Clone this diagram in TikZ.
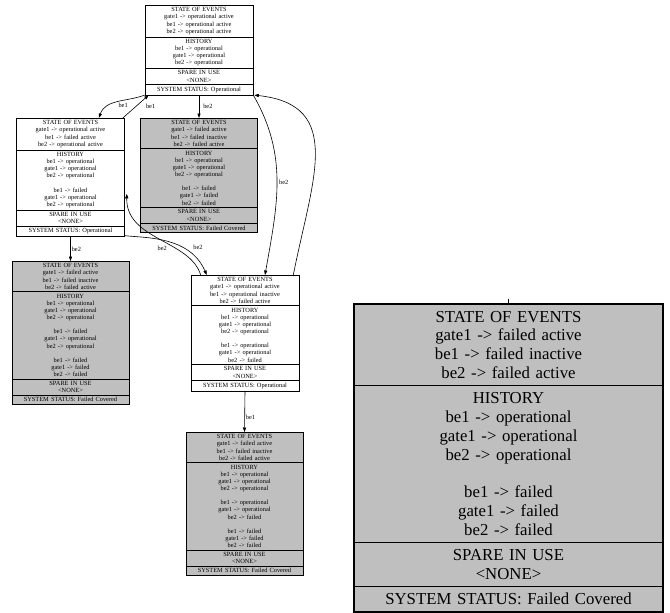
\documentclass[tikz,border=0pt]{standalone}
\usepackage{fontspec}
\setmainfont{Liberation Serif}
\usepackage{tikz}
\usetikzlibrary{shapes.multipart, arrows.meta, positioning}
\newcommand{\recfont}{\fontsize{6.35}{7.14}\selectfont}

\begin{document}
\begin{tikzpicture}[x=1pt, y=-1pt, line width=0.6pt,
	rec/.style={rectangle split, rectangle split parts=4, draw, align=center, text width=85pt, inner xsep=11.5pt, inner ysep=2pt, font=\recfont, anchor=north},
	wide/.style={rec, text width=95pt, inner xsep=11pt},
	failed/.style={wide, fill=lightgray},
	tr/.style={-{Triangle[length=4.5pt, width=3.2pt]}},
	lbl/.style={font=\recfont, inner sep=1pt}]
	\useasboundingbox (0,0) rectangle (670,613);

	\node[rec] (s0) at (199,5) {STATE OF EVENTS\\gate1 -> operational active\\be1 -> operational active\\be2 -> operational active
		\nodepart{two}HISTORY\\be1 -> operational\\gate1 -> operational\\be2 -> operational
		\nodepart{three}SPARE IN USE\\<NONE>
		\nodepart{four}SYSTEM STATUS: Operational};
	\node[rec] (s1) at (70.5,118) {STATE OF EVENTS\\gate1 -> operational active\\be1 -> failed active\\be2 -> operational active
		\nodepart{two}HISTORY\\be1 -> operational\\gate1 -> operational\\be2 -> operational\\[7.14pt]be1 -> failed\\gate1 -> operational\\be2 -> operational
		\nodepart{three}SPARE IN USE\\<NONE>
		\nodepart{four}SYSTEM STATUS: Operational};
	\node[failed] (s2) at (199,118) {STATE OF EVENTS\\gate1 -> failed active\\be1 -> failed inactive\\be2 -> failed active
		\nodepart{two}HISTORY\\be1 -> operational\\gate1 -> operational\\be2 -> operational\\[7.14pt]be1 -> failed\\gate1 -> failed\\be2 -> failed
		\nodepart{three}SPARE IN USE\\<NONE>
		\nodepart{four}SYSTEM STATUS: Failed Covered};
	\node[failed] (s3) at (70.5,261) {STATE OF EVENTS\\gate1 -> failed active\\be1 -> failed inactive\\be2 -> failed active
		\nodepart{two}HISTORY\\be1 -> operational\\gate1 -> operational\\be2 -> operational\\[7.14pt]be1 -> failed\\gate1 -> operational\\be2 -> operational\\[7.14pt]be1 -> failed\\gate1 -> failed\\be2 -> failed
		\nodepart{three}SPARE IN USE\\<NONE>
		\nodepart{four}SYSTEM STATUS: Failed Covered};
	\node[rec] (s4) at (245,275) {STATE OF EVENTS\\gate1 -> operational active\\be1 -> operational inactive\\be2 -> failed active
		\nodepart{two}HISTORY\\be1 -> operational\\gate1 -> operational\\be2 -> operational\\[7.14pt]be1 -> operational\\gate1 -> operational\\be2 -> failed
		\nodepart{three}SPARE IN USE\\<NONE>
		\nodepart{four}SYSTEM STATUS: Operational};
	\node[failed] (s5) at (244.5,432) {STATE OF EVENTS\\gate1 -> failed active\\be1 -> failed inactive\\be2 -> failed active
		\nodepart{two}HISTORY\\be1 -> operational\\gate1 -> operational\\be2 -> operational\\[7.14pt]be1 -> operational\\gate1 -> operational\\be2 -> failed\\[7.14pt]be1 -> failed\\gate1 -> failed\\be2 -> failed
		\nodepart{three}SPARE IN USE\\<NONE>
		\nodepart{four}SYSTEM STATUS: Failed Covered};

	% enlarged copy of s2
	\node[failed, scale=2.64, transform shape, line width=1.2pt] (s2z) at (508.5,302.5) {STATE OF EVENTS\\gate1 -> failed active\\be1 -> failed inactive\\be2 -> failed active
		\nodepart{two}HISTORY\\be1 -> operational\\gate1 -> operational\\be2 -> operational\\[7.14pt]be1 -> failed\\gate1 -> failed\\be2 -> failed
		\nodepart{three}SPARE IN USE\\<NONE>
		\nodepart{four}SYSTEM STATUS: Failed Covered};
	\coordinate (s2ztip) at (508.5,298.5);
	\draw[line width=1.4pt] (s2ztip) -- (s2z.north);

	\draw[tr] (s0.south west) to[out=200, in=70] node[lbl, below right] (l01) {be1} ([xshift=-26pt]s1.north east);
	\draw[tr] ([xshift=-2pt]s1.north east) -- node[lbl, right=9pt] (l10) {be1} ([xshift=4pt]s0.south west);
	\draw[tr] (s0.south) -- node[lbl, right=3pt] (l02) {be2} (s2.north);
	\draw[tr] (s0.south east) to[out=-60, in=80] node[lbl, right=1pt] (l04) {be2} ([xshift=20pt]s4.north);
	\draw[tr] ([xshift=-6pt]s4.north east) .. controls (312,180) and (345,105) .. ([xshift=1pt]s0.south east);
	\draw[tr] ([xshift=10pt]s4.north west) .. controls (190,240) and (126,240) .. ([xshift=2pt, yshift=-16.5pt]s1.east);
	\draw[tr] ([yshift=1pt]s1.south east) .. controls (145,238) and (190,236) .. node[lbl, pos=0.45, below=4pt] (l14) {be2} node[lbl, pos=0.65, right=11pt] (l41) {be2} ([xshift=16pt]s4.north west);
	\draw[tr] (s1.south) -- node[lbl, right] (l13) {be2} (s3.north);
	\draw[tr] (s4.south) -- node[lbl, pos=0.65, right] (l45) {be1} (s5.north);
\end{tikzpicture}
\end{document}
